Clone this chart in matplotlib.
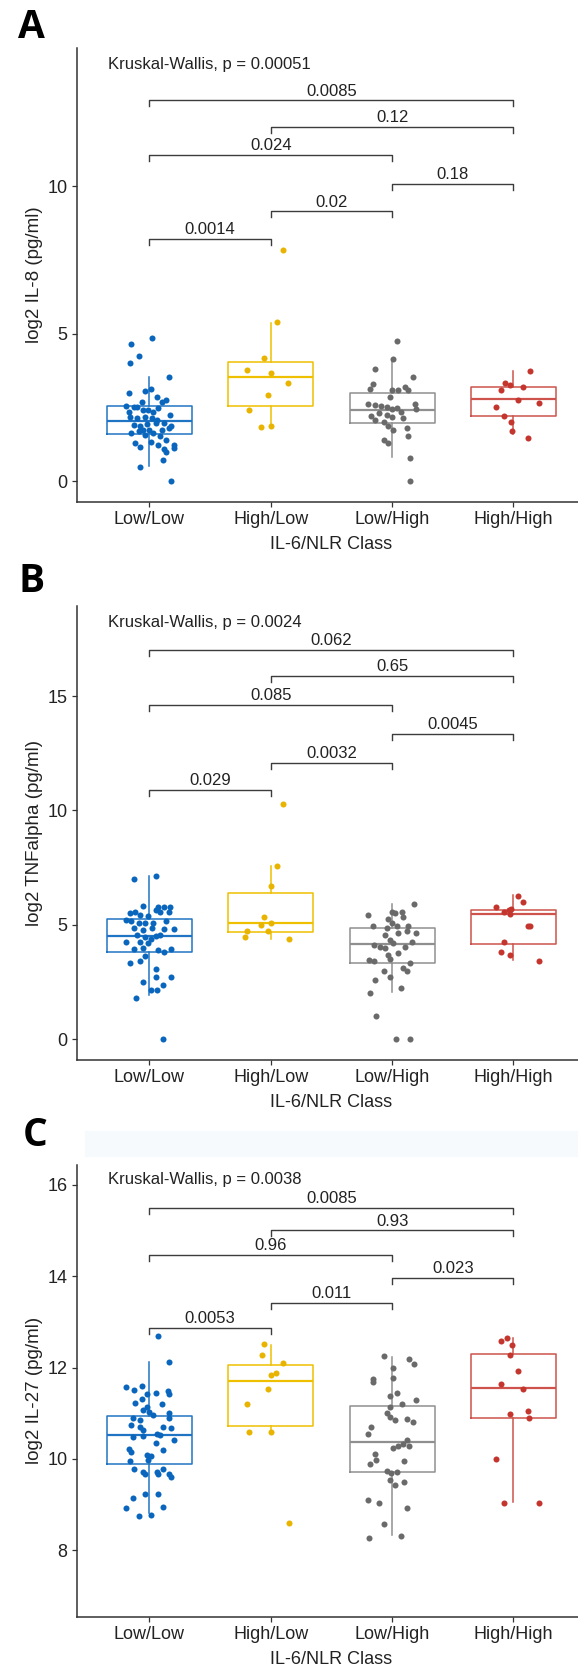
import matplotlib
matplotlib.use("Agg")
import matplotlib.pyplot as plt
from matplotlib.patches import Rectangle

plt.rcParams['font.family'] = ['Liberation Sans', 'DejaVu Sans']

# groups and colours (jco palette)
groups = ["Low/Low", "High/Low", "Low/High", "High/High"]
box_colors = ["#1f74c4", "#EFC000", "#8f8f8f", "#CD534C"]
dot_colors = ["#0a66bd", "#E8B400", "#6a6a6a", "#C4352E"]

# comparisons shown as brackets (same order in every panel)
pairs = [(1, 2), (2, 3), (3, 4), (1, 3), (2, 4), (1, 4)]

# ---------------- panel A: IL-8 ----------------
il8_ll_dx = [0.02, -0.15, -0.09, -0.16, 0.16, -0.17, -0.04, 0.01, 0.06, 0.10, 0.14, -0.19, -0.13,
             -0.06, -0.05, -0.01, 0.03, 0.07, -0.16, -0.10, -0.04, 0.02, 0.17, -0.13, -0.08, -0.02,
             0.05, 0.10, 0.16, 0.18, -0.15, -0.09, -0.04, 0.03, 0.09, -0.12, -0.08, 0.01, 0.07, 0.12,
             0.20, 0.20, 0.14, -0.08, 0.11, 0.18, -0.17, -0.10, 0.06, 0.12, -0.05, 0.0, 0.14]
il8_ll_y = [4.85, 4.66, 4.25, 4.02, 3.55, 2.99, 3.06, 3.12, 2.87, 2.70, 2.74, 2.56, 2.51,
            2.70, 2.42, 2.42, 2.36, 2.48, 2.17, 2.14, 2.19, 2.14, 2.25, 1.91, 1.86, 1.93,
            1.97, 1.74, 1.80, 1.86, 1.63, 1.69, 1.57, 1.63, 1.52, 1.29, 1.18, 1.35, 1.23, 1.09,
            1.23, 1.12, 1.01, 0.47, 0.73, 0.0, 2.36, 2.53, 2.08, 1.97, 1.74, 1.74, 1.40]
il8_hl_dx = [0.10, 0.05, -0.06, -0.20, 0.0, 0.14, -0.02, -0.18, -0.08, 0.0]
il8_hl_y = [7.85, 5.39, 4.18, 3.77, 3.67, 3.34, 2.91, 2.42, 1.83, 1.88]
il8_lh_dx = [0.04, 0.01, -0.14, 0.17, -0.16, -0.18, 0.0, 0.05, 0.11, 0.13, -0.02, -0.20, -0.14,
             -0.09, -0.04, 0.0, 0.04, 0.07, 0.19, 0.20, -0.17, -0.14, -0.07, 0.0, 0.09, -0.03,
             0.01, 0.12, 0.13, -0.07, -0.03, 0.15, 0.15, -0.11, -0.04]
il8_lh_y = [4.74, 4.14, 3.80, 3.55, 3.30, 3.12, 3.10, 3.08, 3.21, 3.10, 2.87, 2.62, 2.59,
            2.56, 2.51, 2.44, 2.48, 2.36, 2.62, 2.44, 2.22, 2.08, 2.02, 2.17, 2.14, 1.86,
            1.74, 1.80, 1.52, 1.40, 1.29, 0.78, 0.0, 2.33, 2.25]
il8_hh_dx = [0.14, -0.07, -0.03, -0.10, 0.08, 0.04, 0.21, -0.14, -0.08, -0.02, -0.01, 0.12]
il8_hh_y = [3.75, 3.32, 3.27, 3.10, 3.19, 2.76, 2.67, 2.51, 2.22, 2.02, 1.72, 1.48]
# whisker low, q1, median, q3, whisker high
il8_box = [(0.52, 1.61, 2.03, 2.55, 3.54), (1.89, 2.54, 3.54, 4.06, 5.38),
           (0.82, 1.97, 2.43, 3.00, 4.09), (1.60, 2.21, 2.79, 3.20, 3.75)]
il8_p = ["0.0014", "0.02", "0.18", "0.024", "0.12", "0.0085"]
il8_bracket_y = [8.23, 9.15, 10.08, 11.05, 12.02, 12.91]
il8_kw = "Kruskal-Wallis, p = 0.00051"

# ---------------- panel B: TNFalpha ----------------
tnf_ll_dx = [-0.13, 0.05, -0.05, 0.07, 0.12, 0.17, -0.16, -0.12, -0.08, -0.01, 0.05, 0.09, 0.16,
             -0.19, -0.15, -0.09, -0.04, 0.03, 0.14, -0.13, -0.05, 0.02, 0.12, 0.20, -0.10, -0.04,
             0.05, 0.09, -0.19, -0.08, -0.01, 0.01, -0.13, -0.05, 0.07, 0.12, 0.18, -0.16, -0.08,
             -0.04, 0.05, 0.18, 0.05, -0.05, 0.11, 0.01, 0.06, -0.11, 0.11]
tnf_ll_y = [6.99, 7.15, 5.83, 5.77, 5.80, 5.77, 5.51, 5.54, 5.44, 5.39, 5.63, 5.58, 5.58,
            5.22, 5.15, 5.10, 5.07, 5.10, 5.15, 4.85, 4.78, 4.85, 4.81, 4.81, 4.56, 4.49,
            4.52, 4.56, 4.23, 4.27, 4.20, 4.37, 3.94, 3.98, 3.91, 3.83, 3.94, 3.35, 3.40,
            3.64, 3.06, 2.74, 2.74, 2.48, 2.38, 2.13, 2.13, 1.82, 0.0]
tnf_hl_dx = [0.10, 0.05, 0.0, -0.06, 0.0, -0.08, -0.02, -0.20, -0.21, 0.15]
tnf_hl_y = [10.30, 7.59, 6.71, 5.33, 5.10, 5.00, 4.75, 4.71, 4.49, 4.37]
tnf_lh_dx = [0.18, -0.20, 0.0, 0.02, 0.08, 0.09, -0.03, 0.0, -0.16, -0.04, 0.04, 0.13, 0.12,
             0.20, -0.06, 0.05, -0.02, 0.01, 0.16, -0.15, -0.10, -0.06, 0.11, 0.05, -0.03, -0.19,
             -0.15, -0.02, 0.15, 0.09, 0.12, -0.07, -0.02, -0.14, 0.07, -0.18, -0.13, 0.03, 0.15]
tnf_lh_y = [5.92, 5.44, 5.58, 5.51, 5.54, 5.34, 5.25, 5.07, 4.93, 4.85, 4.93, 4.96, 4.75,
            4.64, 4.56, 4.64, 4.35, 4.20, 4.23, 4.13, 4.05, 3.98, 4.05, 3.79, 3.69, 3.47,
            3.44, 3.50, 3.35, 3.10, 3.00, 3.00, 2.74, 2.60, 2.23, 2.01, 1.02, 0.0, 0.0]
tnf_hh_dx = [0.04, 0.08, -0.14, -0.08, -0.04, -0.02, -0.03, 0.12, 0.14, -0.08, -0.10, -0.03, 0.21]
tnf_hh_y = [6.27, 5.98, 5.80, 5.58, 5.63, 5.69, 5.48, 4.96, 4.96, 4.23, 3.83, 3.69, 3.40]
tnf_box = [(1.92, 3.82, 4.50, 5.24, 7.15), (4.40, 4.68, 5.07, 6.37, 7.59),
           (2.08, 3.32, 4.18, 4.85, 5.90), (3.48, 4.18, 5.48, 5.67, 6.29)]
tnf_p = ["0.029", "0.0032", "0.0045", "0.085", "0.65", "0.062"]
tnf_bracket_y = [10.89, 12.06, 13.34, 14.61, 15.86, 17.01]
tnf_kw = "Kruskal-Wallis, p = 0.0024"

# ---------------- panel C: IL-27 ----------------
il27_ll_dx = [0.07, 0.16, -0.19, -0.13, -0.06, 0.05, 0.15, 0.16, -0.06, -0.02, -0.12, 0.10, -0.05,
              0.0, -0.02, 0.16, -0.14, -0.08, 0.03, 0.16, -0.15, -0.08, -0.05, 0.11, 0.18, -0.14,
              -0.05, 0.06, 0.09, 0.20, 0.05, -0.17, -0.15, 0.11, -0.02, 0.01, -0.01, -0.16, -0.13,
              -0.05, -0.04, 0.06, 0.07, 0.11, 0.16, 0.18, -0.04, 0.07, -0.14, 0.11, -0.19, -0.09, 0.01]
il27_ll_y = [12.69, 12.13, 11.57, 11.51, 11.59, 11.45, 11.49, 11.43, 11.32, 11.42, 11.22, 11.20, 11.07,
             11.03, 11.13, 11.00, 10.89, 10.85, 10.96, 10.89, 10.74, 10.69, 10.63, 10.69, 10.67, 10.49,
             10.50, 10.54, 10.52, 10.41, 10.34, 10.21, 10.16, 10.19, 10.08, 10.06, 9.98, 9.96, 9.77,
             9.72, 9.67, 9.72, 9.67, 9.77, 9.67, 9.61, 9.23, 9.23, 9.15, 8.95, 8.92, 8.75, 8.77]
il27_hl_dx = [-0.06, -0.07, 0.10, 0.0, 0.04, -0.02, -0.20, -0.18, 0.0, 0.15]
il27_hl_y = [12.51, 12.27, 12.11, 11.84, 11.89, 11.54, 11.20, 10.60, 10.60, 8.59]
il27_lh_dx = [-0.07, 0.14, 0.18, 0.01, -0.16, -0.16, 0.01, -0.02, 0.04, 0.20, 0.08, -0.02, -0.04,
              -0.02, 0.02, 0.12, 0.17, -0.17, -0.20, 0.12, 0.14, 0.09, 0.05, 0.01, -0.14, -0.13,
              0.10, -0.18, -0.04, 0.04, -0.01, -0.02, 0.02, 0.10, -0.20, -0.11, 0.12, -0.07, -0.19, 0.07]
il27_lh_y = [12.25, 12.18, 12.08, 11.98, 11.74, 11.69, 11.78, 11.38, 11.45, 11.30, 11.20, 11.13, 11.00,
             10.91, 10.85, 10.87, 10.81, 10.69, 10.54, 10.41, 10.28, 10.33, 10.28, 10.25, 10.11, 9.98,
             9.96, 9.89, 9.74, 9.72, 9.70, 9.55, 9.43, 9.50, 9.10, 9.04, 8.92, 8.57, 8.28, 8.31]
il27_hh_dx = [-0.10, -0.05, -0.01, -0.03, 0.04, -0.10, 0.08, -0.03, 0.12, 0.13, -0.14, -0.08, 0.21]
il27_hh_y = [12.59, 12.64, 12.49, 12.27, 11.93, 11.65, 11.54, 10.98, 11.05, 10.89, 10.01, 9.03, 9.03]
il27_box = [(8.81, 9.89, 10.53, 10.95, 12.13), (10.60, 10.73, 11.70, 12.06, 12.49),
            (8.33, 9.72, 10.38, 11.16, 12.23), (9.05, 10.89, 11.56, 12.29, 12.65)]
il27_p = ["0.0053", "0.011", "0.023", "0.96", "0.93", "0.0085"]
il27_bracket_y = [12.87, 13.42, 13.96, 14.47, 15.00, 15.50]
il27_kw = "Kruskal-Wallis, p = 0.0038"

W, H = 578, 1669
fig = plt.figure(figsize=(W / 100, H / 100), dpi=100)


def add_axes_px(left, top, right, bottom):
    return fig.add_axes([left / W, 1 - bottom / H, (right - left) / W, (bottom - top) / H])


def draw_panel(ax, dxs, ys, box, pvals, bracket_y, kw_text, kw_y, ylabel, yticks, ylim, top, bottom):
    ax.set_xlim(0.4, 4.6)
    ax.set_ylim(*ylim)
    for i in range(4):
        lo, q1, med, q3, hi = box[i]
        c = box_colors[i]
        ax.bxp([dict(whislo=lo, q1=q1, med=med, q3=q3, whishi=hi, fliers=[])],
               positions=[i + 1], widths=0.7, showcaps=False, showfliers=False,
               boxprops=dict(color=c, lw=1.1), whiskerprops=dict(color=c, lw=1.1),
               medianprops=dict(color=c, lw=1.6), manage_ticks=False)
        ax.scatter([i + 1 + d for d in dxs[i]], ys[i], s=19, color=dot_colors[i],
                   linewidths=0, zorder=3)

    # bracket tick length ~6 px
    tick = 6 * (ylim[1] - ylim[0]) / (bottom - top)
    for (a, b), p, h in zip(pairs, pvals, bracket_y):
        ax.plot([a, a, b, b], [h - tick, h, h, h - tick], color="#3c3c3c", lw=1.0, zorder=2)
        ax.annotate(p, xy=((a + b) / 2, h), xytext=(0, 3.5), textcoords="offset points",
                    ha="center", va="baseline", fontsize=12, color="#222222")
    ax.text(0.66, kw_y, kw_text, ha="left", va="center", fontsize=12, color="#222222")

    for s in ["top", "right"]:
        ax.spines[s].set_visible(False)
    for s in ["left", "bottom"]:
        ax.spines[s].set_color("#333333")
        ax.spines[s].set_linewidth(1.1)
    ax.set_xticks([1, 2, 3, 4])
    ax.set_xticklabels(groups)
    ax.set_yticks(yticks)
    ax.tick_params(axis="both", length=3.5, width=0.9, color="#333333",
                   labelsize=13, labelcolor="#222222", pad=3)
    ax.text(0.5, -0.094, "IL-6/NLR Class", transform=ax.transAxes, ha="center",
            va="center", fontsize=13, color="#222222")
    ax.text(-0.082, 0.5, ylabel, transform=ax.transAxes, rotation=90, ha="center",
            va="center", fontsize=13.5, color="#222222")


ax_a = add_axes_px(76.7, 48.2, 586.2, 501.7)
draw_panel(ax_a, [il8_ll_dx, il8_hl_dx, il8_lh_dx, il8_hh_dx],
           [il8_ll_y, il8_hl_y, il8_lh_y, il8_hh_y], il8_box, il8_p, il8_bracket_y,
           il8_kw, 14.14, "log2 IL-8 (pg/ml)", [0, 5, 10], (-0.69, 14.68), 48.2, 501.7)

ax_b = add_axes_px(76.7, 606.1, 586.2, 1059.6)
draw_panel(ax_b, [tnf_ll_dx, tnf_hl_dx, tnf_lh_dx, tnf_hh_dx],
           [tnf_ll_y, tnf_hl_y, tnf_lh_y, tnf_hh_y], tnf_box, tnf_p, tnf_bracket_y,
           tnf_kw, 18.23, "log2 TNFalpha (pg/ml)", [0, 5, 10, 15], (-0.89, 18.93), 606.1, 1059.6)

ax_c = add_axes_px(76.7, 1165.0, 586.2, 1616.7)
draw_panel(ax_c, [il27_ll_dx, il27_hl_dx, il27_lh_dx, il27_hh_dx],
           [il27_ll_y, il27_hl_y, il27_lh_y, il27_hh_y], il27_box, il27_p, il27_bracket_y,
           il27_kw, 16.11, "log2 IL-27 (pg/ml)", [8, 10, 12, 14, 16], (6.55, 16.43), 1165.0, 1616.7)

# faint band behind the C label
fig.patches.append(Rectangle((85 / W, 1 - 1156 / H), (W - 85) / W, 25 / H,
                             transform=fig.transFigure, color="#f7fafd", zorder=0))

for letter, x, y in [("A", 31, 28), ("B", 32, 581), ("C", 35, 1136)]:
    fig.text(x / W, 1 - y / H, letter, ha="center", va="center", fontsize=28,
             fontweight="bold", family=["Open Sans", "DejaVu Sans"])

fig.savefig("out.png", dpi=100)
